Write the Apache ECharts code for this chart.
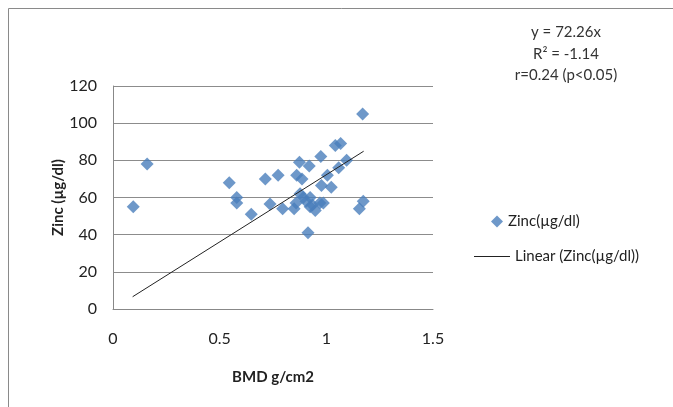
<!DOCTYPE html>
<html>
<head>
<meta charset="utf-8">
<script src="https://cdn.jsdelivr.net/npm/echarts@6/dist/echarts.min.js"></script>
<style>
  html, body { margin: 0; padding: 0; background: #fff; }
  #chart { width: 673px; height: 407px; }
</style>
</head>
<body>
<div id="chart"></div>
<script>
// BMD (g/cm2) vs Zinc (µg/dl)
var bmd = [0.095, 0.16, 0.545, 0.58, 0.58, 0.648, 0.714, 0.774, 0.736, 0.795,
           0.849, 0.861, 0.874, 0.886, 0.92, 0.974, 0.877, 0.892, 0.924, 0.924,
           0.948, 0.97, 0.986, 0.977, 1.005, 1.023, 0.914, 1.042, 1.067, 1.058,
           1.095, 1.17, 1.155, 1.173, 0.858, 0.905, 0.935];
var zinc = [55, 78, 68, 60, 57, 51, 70, 72, 56.5, 54,
            54, 72, 79, 70, 77, 82, 62, 60, 60, 55,
            53, 57, 57, 66.5, 72, 65.5, 41, 88, 89, 76,
            80, 105, 54, 58, 57, 58, 56];

// linear trendline end points (y = 72.26x)
var trendX = [0.092, 1.175];
var trendY = [6.6, 84.9];

var xTicks = [0, 0.5, 1, 1.5];
var yTicks = [0, 20, 40, 60, 80, 100, 120];

var notes = ['y = 72.26x', 'R² = -1.14', 'r=0.24 (p<0.05)'];

var points = bmd.map(function (v, i) { return [v, zinc[i]]; });
var trend = trendX.map(function (v, i) { return [v, trendY[i]]; });

var font = 'Lato, "Open Sans", sans-serif';
var myChart = echarts.init(document.getElementById('chart'));

function note(txt, y) {
    return {
        type: 'text', silent: true,
        style: { x: 566, y: y, text: txt, textAlign: 'center', textVerticalAlign: 'middle',
                 fill: '#333', font: '15px ' + font }
    };
}

var option = {
    animation: false,
    textStyle: { fontFamily: font },
    grid: { left: 113, top: 86, width: 320, height: 223 },
    legend: [{
        left: 491,
        top: 214,
        padding: 0,
        itemWidth: 12,
        itemHeight: 12,
        textStyle: { color: '#222', fontSize: 15, fontFamily: font },
        data: [{ name: 'Zinc(µg/dl)', icon: 'diamond' }]
    }, {
        left: 474,
        top: 249,
        padding: 0,
        itemWidth: 36,
        itemHeight: 10,
        itemGap: 4,
        textStyle: { color: '#222', fontSize: 15, fontFamily: font },
        data: [{ name: 'Linear (Zinc(µg/dl))', icon: 'path://M0,5 L36,5 L36,6 L0,6 Z' }]
    }],
    xAxis: {
        type: 'value',
        min: xTicks[0],
        max: xTicks[xTicks.length - 1],
        interval: 0.5,
        name: 'BMD g/cm2',
        nameLocation: 'middle',
        nameGap: 61,
        nameTextStyle: { color: '#222', fontSize: 15, fontWeight: 'bold', fontFamily: font },
        axisLine: { show: true, lineStyle: { color: '#888', width: 1 } },
        axisTick: { show: false },
        axisLabel: { color: '#222', fontSize: 16, margin: 22, fontFamily: font },
        splitLine: { show: false }
    },
    yAxis: {
        type: 'value',
        min: yTicks[0],
        max: yTicks[yTicks.length - 1],
        interval: 20,
        name: 'Zinc (µg/dl)',
        nameLocation: 'middle',
        nameGap: 44,
        nameTextStyle: { color: '#222', fontSize: 15, fontWeight: 'bold', fontFamily: font },
        axisLine: { show: true, lineStyle: { color: '#888', width: 1 } },
        axisTick: { show: false },
        axisLabel: { color: '#222', fontSize: 16, margin: 16, fontFamily: font },
        splitLine: { show: true, lineStyle: { color: '#8c8c8c', width: 1 } }
    },
    graphic: [
        {
            type: 'rect',
            silent: true,
            shape: { x: 8.5, y: 8.5, width: 700, height: 420 },
            style: { fill: 'none', stroke: '#8a8a8a', lineWidth: 1 }
        },
        note(notes[0], 32),
        note(notes[1], 54),
        note(notes[2], 75)
    ],
    series: [{
        name: 'Zinc(µg/dl)',
        type: 'scatter',
        symbol: 'diamond',
        symbolSize: 13,
        itemStyle: { color: '#4a7ebb' },
        data: points,
        z: 3
    }, {
        name: 'Linear (Zinc(µg/dl))',
        type: 'line',
        showSymbol: false,
        symbol: 'none',
        lineStyle: { color: '#222', width: 1 },
        itemStyle: { color: '#222' },
        data: trend,
        z: 4
    }]
};

myChart.setOption(option);
</script>
</body>
</html>
